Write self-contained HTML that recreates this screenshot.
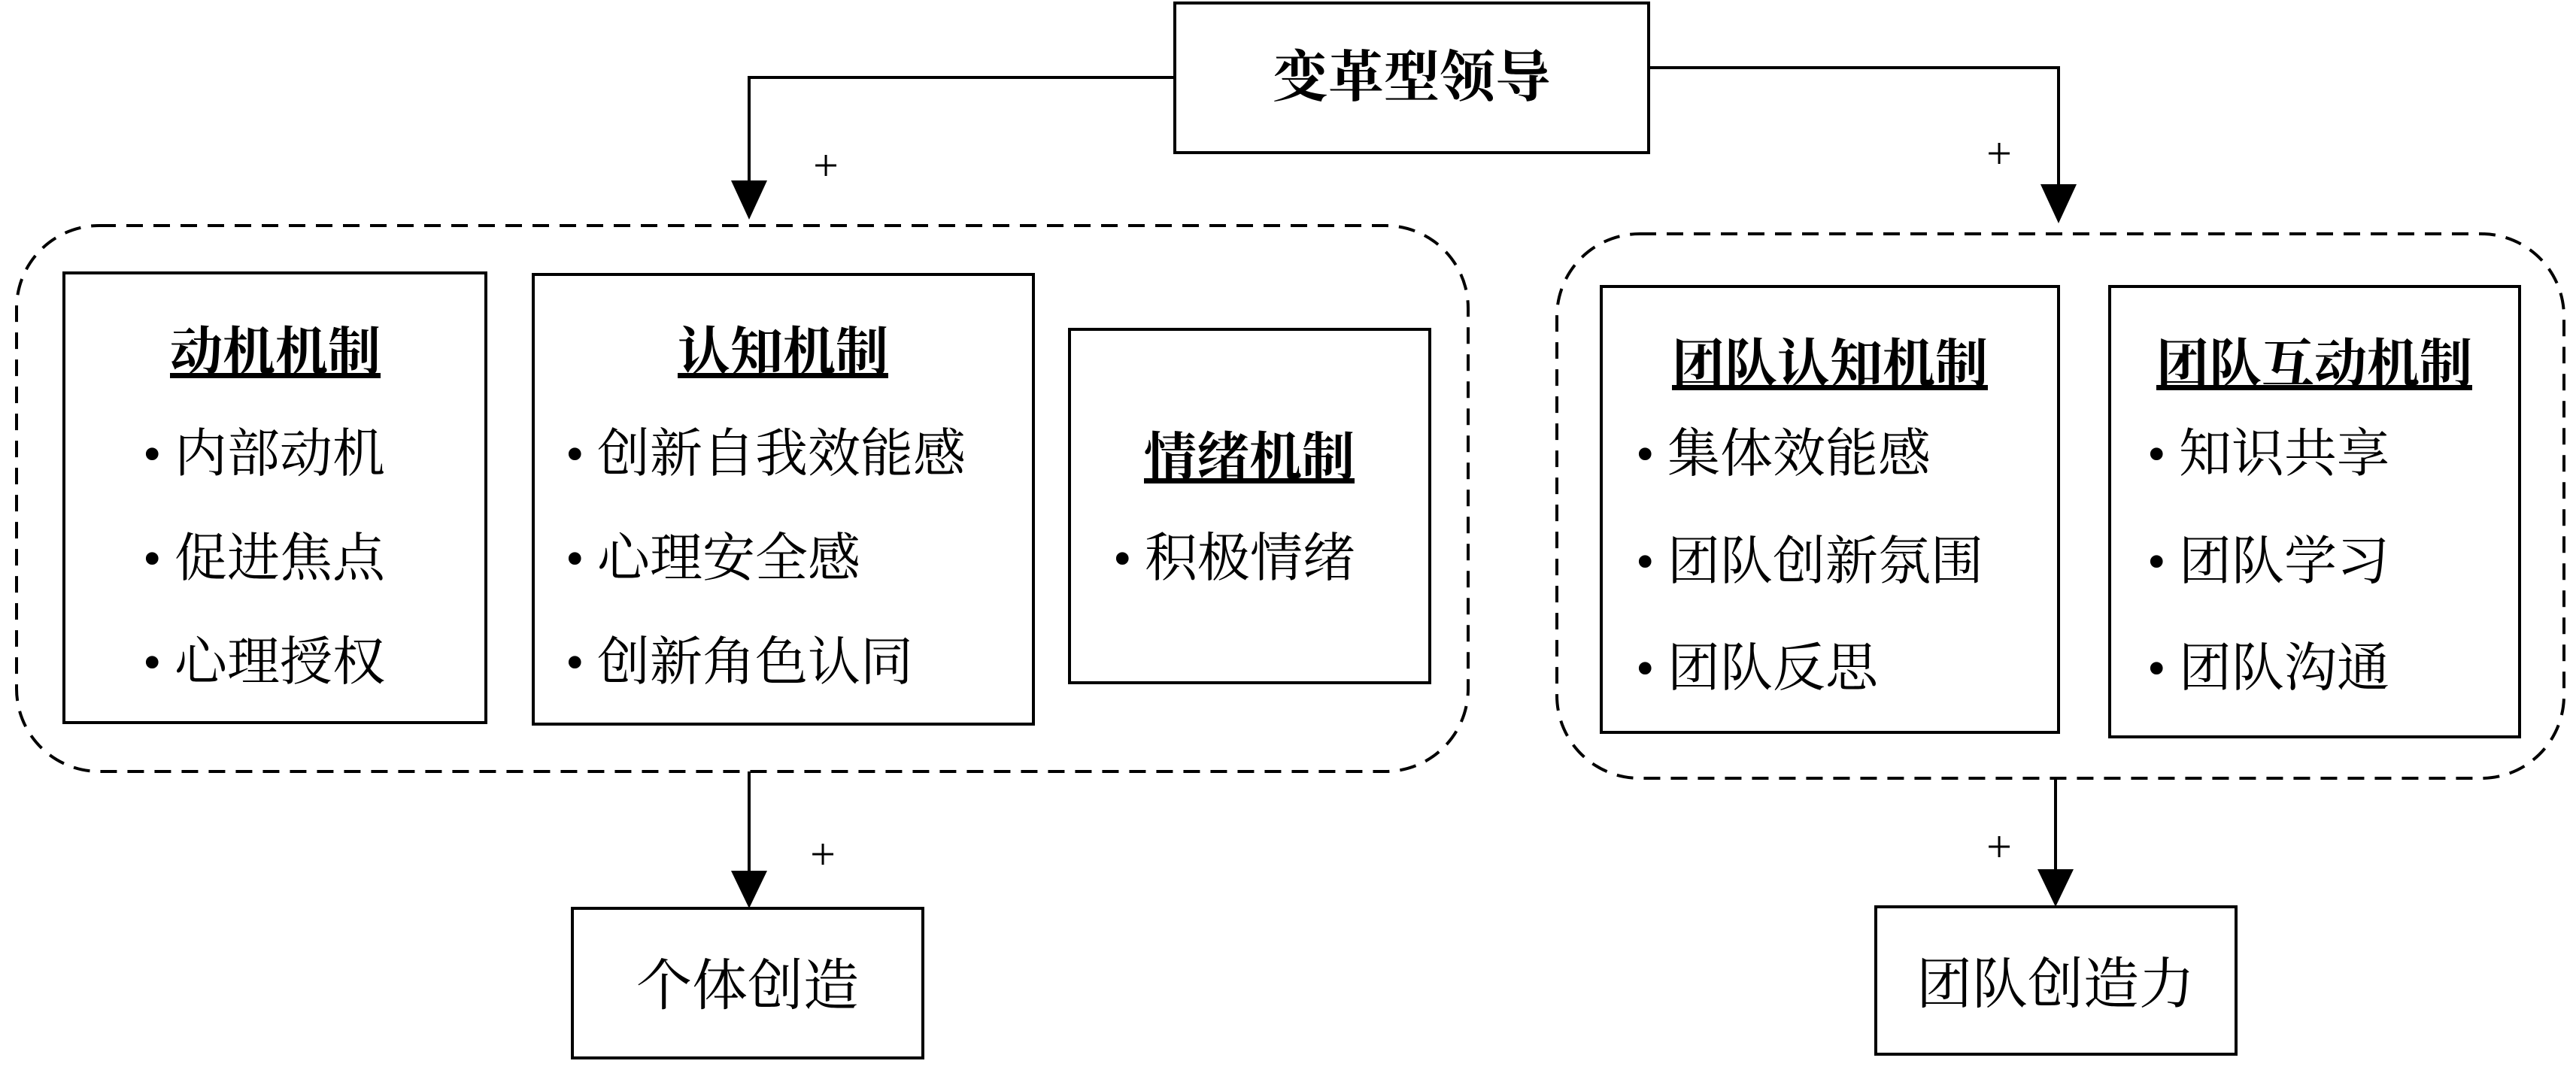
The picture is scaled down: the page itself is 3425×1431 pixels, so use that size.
<!DOCTYPE html>
<html><head><meta charset="utf-8"><style>
html,body{margin:0;padding:0;background:#fff;}
svg{display:block;}
text{font-family:"Liberation Serif","Noto Serif CJK SC","Noto Sans CJK SC",serif;fill:#000;}
.t{font-weight:bold;font-size:70px;text-decoration:underline;}
.i{font-size:70px;}
</style></head><body>
<svg width="3425" height="1431" viewBox="0 0 3425 1431" xmlns="http://www.w3.org/2000/svg">
<defs><marker id="a" markerWidth="10" markerHeight="10" refX="5" refY="9" orient="auto" markerUnits="userSpaceOnUse" viewBox="0 0 10 10"></marker></defs>
<g fill="none" stroke="#000" stroke-width="4">
<rect x="1562" y="4" width="630" height="199"/>
<polyline points="1562,103 996,103 996,240"/>
<polyline points="2192,90 2737,90 2737,245"/>
<rect x="22" y="300" width="1930" height="726" rx="110" ry="110" stroke-dasharray="22,14"/>
<rect x="2070" y="311" width="1339" height="724" rx="110" ry="110" stroke-dasharray="22,14"/>
<rect x="85" y="363" width="561" height="598"/>
<rect x="709" y="365" width="665" height="598"/>
<rect x="1422" y="438" width="479" height="470"/>
<rect x="2129" y="381" width="608" height="593"/>
<rect x="2805" y="381" width="545" height="599"/>
<rect x="761" y="1208" width="466" height="199"/>
<rect x="2494" y="1206" width="479" height="196"/>
<line x1="996" y1="1026" x2="996" y2="1160"/>
<line x1="2733" y1="1035" x2="2733" y2="1158"/>
</g>
<g fill="#000">
<polygon points="972,240 1020,240 996,292"/>
<polygon points="2713,245 2761,245 2737,297"/>
<polygon points="972,1158 1020,1158 996,1208"/>
<polygon points="2709,1156 2757,1156 2733,1206"/>
</g>
<g class="i" text-anchor="middle" style="font-size:60px">
<text x="1098" y="240">+</text>
<text x="2658" y="224">+</text>
<text x="1094" y="1156">+</text>
<text x="2658" y="1146">+</text>
</g>
<text x="1877" y="128" text-anchor="middle" style="font-size:74px;font-weight:bold">变革型领导</text>
<text x="994" y="1336" text-anchor="middle" style="font-size:74px">个体创造</text>
<text x="2733" y="1334" text-anchor="middle" style="font-size:74px">团队创造力</text>

<text class="t" x="366" y="492" text-anchor="middle">动机机制</text>
<text class="i" x="190" y="627">• 内部动机</text>
<text class="i" x="190" y="766">• 促进焦点</text>
<text class="i" x="190" y="904">• 心理授权</text>

<text class="t" x="1041" y="492" text-anchor="middle">认知机制</text>
<text class="i" x="752" y="627">• 创新自我效能感</text>
<text class="i" x="752" y="766">• 心理安全感</text>
<text class="i" x="752" y="904">• 创新角色认同</text>

<text class="t" x="1661" y="632" text-anchor="middle">情绪机制</text>
<text class="i" x="1480" y="766">• 积极情绪</text>

<text class="t" x="2433" y="508" text-anchor="middle">团队认知机制</text>
<text class="i" x="2175" y="627">• 集体效能感</text>
<text class="i" x="2175" y="770">• 团队创新氛围</text>
<text class="i" x="2175" y="912">• 团队反思</text>

<text class="t" x="3077" y="508" text-anchor="middle">团队互动机制</text>
<text class="i" x="2855" y="627">• 知识共享</text>
<text class="i" x="2855" y="770">• 团队学习</text>
<text class="i" x="2855" y="912">• 团队沟通</text>
</svg>
</body></html>
